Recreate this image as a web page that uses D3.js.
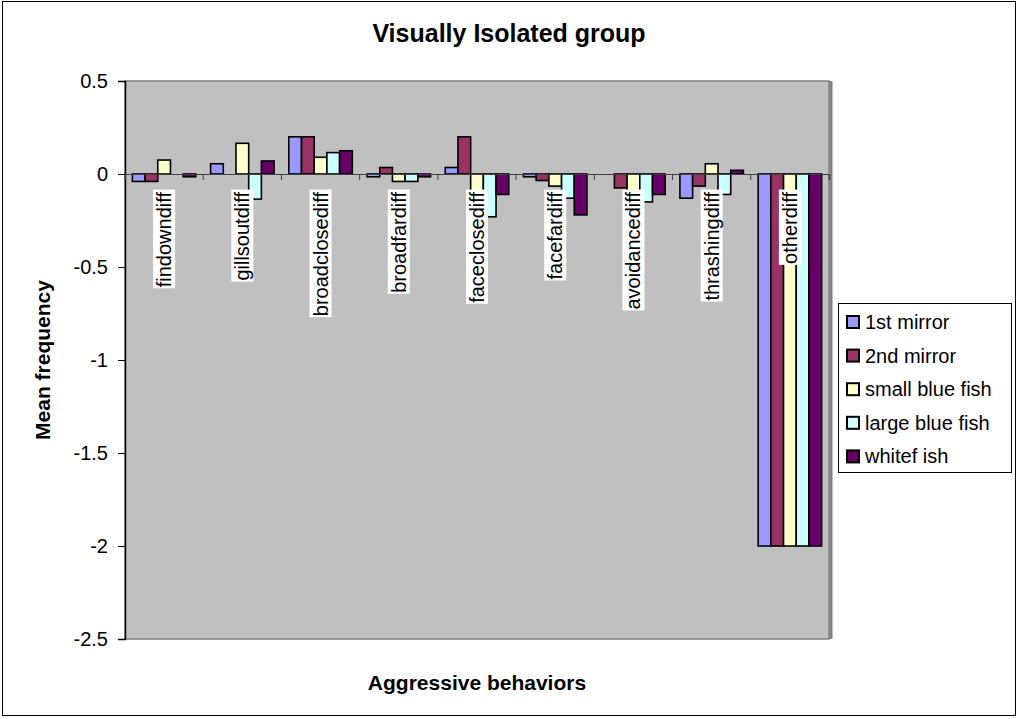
<!DOCTYPE html>
<html>
<head>
<meta charset="utf-8">
<script src="https://cdn.jsdelivr.net/npm/d3@7"></script>
<style>
  body { margin: 0; background: #fff; }
  text { font-family: Arial, "Liberation Sans", sans-serif; }
</style>
</head>
<body>
<svg width="1021" height="719"></svg>
<script>
// values
const categories = ['findowndiff', 'gillsoutdiff', 'broadclosediff', 'broadfardiff',
  'faceclosediff', 'facefardiff', 'avoidancediff', 'thrashingdiff', 'otherdiff'];
const seriesNames = ['1st mirror', '2nd mirror', 'small blue fish', 'large blue fish', 'whitef ish'];
const firstMirror  = [-0.04, 0.055, 0.2, -0.015, 0.035, -0.015, 0, -0.13, -2];
const secondMirror = [-0.04, 0, 0.2, 0.035, 0.2, -0.035, -0.075, -0.065, -2];
const smallBlue    = [0.075, 0.165, 0.09, -0.04, -0.1, -0.065, -0.09, 0.055, -2];
const largeBlue    = [0, -0.135, 0.115, -0.04, -0.23, -0.13, -0.15, -0.11, -2];
const whiteFish    = [-0.015, 0.07, 0.125, -0.015, -0.11, -0.22, -0.11, 0.02, -2];
const yTicks = [0.5, 0, -0.5, -1, -1.5, -2, -2.5];
const colors = ['#9999FF', '#993366', '#FFFFCC', '#CCFFFF', '#660066'];

const seriesValues = [firstMirror, secondMirror, smallBlue, largeBlue, whiteFish];

const svg = d3.select('svg');
const width = +svg.attr('width');
const height = +svg.attr('height');

const margin = { top: 81, right: 192, bottom: 80, left: 125 };
const innerWidth = width - margin.left - margin.right;   // 704
const innerHeight = height - margin.top - margin.bottom; // 558

// outer chart border
svg.append('rect')
  .attr('x', 2.5).attr('y', 1.5)
  .attr('width', 1013).attr('height', 714)
  .attr('fill', '#fff')
  .attr('stroke', '#000');

svg.append('text')
  .attr('x', 509).attr('y', 42)
  .attr('text-anchor', 'middle')
  .attr('font-size', 25).attr('font-weight', 'bold')
  .text('Visually Isolated group');

const g = svg.append('g')
  .attr('transform', `translate(${margin.left}, ${margin.top})`);

const yScale = d3.scaleLinear()
  .domain([0.5, -2.5])
  .range([0, innerHeight]);

const x0 = d3.scaleBand()
  .domain(categories)
  .range([0, innerWidth])
  .padding(0);

const x1 = d3.scaleBand()
  .domain(seriesNames)
  .range([0, x0.bandwidth()])
  .paddingInner(0)
  .paddingOuter(0.58);

// plot area
g.append('rect')
  .attr('width', innerWidth).attr('height', innerHeight)
  .attr('fill', '#C0C0C0');

// bars
const groups = g.selectAll('.cat').data(categories)
  .enter().append('g')
  .attr('class', 'cat')
  .attr('transform', d => `translate(${x0(d)}, 0)`);

groups.selectAll('rect')
  .data((c, i) => seriesNames.map((s, j) => ({ s, j, v: seriesValues[j][i] })))
  .enter().append('rect')
  .filter(d => d.v !== 0)
  .attr('x', d => x1(d.s))
  .attr('y', d => yScale(Math.max(0, d.v)))
  .attr('width', x1.bandwidth())
  .attr('height', d => Math.abs(yScale(d.v) - yScale(0)))
  .attr('fill', d => colors[d.j])
  .attr('stroke', '#000')
  .attr('stroke-width', 1.6);

// plot border
g.append('rect')
  .attr('width', innerWidth).attr('height', innerHeight)
  .attr('fill', 'none')
  .attr('stroke', '#808080')
  .attr('stroke-width', 1.5);
g.append('line')
  .attr('x1', innerWidth + 2).attr('x2', innerWidth + 2)
  .attr('y1', 0).attr('y2', innerHeight)
  .attr('stroke', '#808080').attr('stroke-width', 3);

// y axis
const yAxis = d3.axisLeft(yScale)
  .tickValues(yTicks)
  .tickSize(7)
  .tickPadding(10)
  .tickFormat(d => String(d));
const yAxisG = g.append('g').call(yAxis);
yAxisG.select('.domain').attr('stroke', '#000').attr('stroke-width', 1.5);
yAxisG.selectAll('.tick line').attr('stroke', '#000');
yAxisG.selectAll('.tick text')
  .attr('font-size', 20)
  .attr('font-family', 'Arial, "Liberation Sans", sans-serif')
  .attr('fill', '#000');

// category axis on zero line
const xAxis = d3.axisBottom(x0).tickSize(6).tickFormat('');
const xAxisG = g.append('g')
  .attr('transform', `translate(0, ${yScale(0)})`)
  .call(xAxis);
xAxisG.select('.domain').attr('stroke', '#404040').attr('stroke-width', 1.2);
xAxisG.selectAll('.tick line')
  .attr('stroke', '#404040')
  .attr('transform', d => `translate(${-x0.bandwidth() / 2}, 0)`);
xAxisG.append('line')
  .attr('x1', innerWidth).attr('x2', innerWidth)
  .attr('y1', 0).attr('y2', 6)
  .attr('stroke', '#404040');

// rotated category labels with white boxes
const labels = g.selectAll('.clabel').data(categories)
  .enter().append('g')
  .attr('class', 'clabel')
  .attr('transform', d => `translate(${x0(d) + x0.bandwidth() / 2}, ${yScale(0) + 18}) rotate(-90)`);

labels.append('text')
  .attr('x', 0).attr('y', 0)
  .attr('dy', '0.35em')
  .attr('text-anchor', 'end')
  .attr('font-size', 20)
  .text(d => d);

labels.each(function () {
  const sel = d3.select(this);
  const bb = sel.select('text').node().getBBox();
  sel.insert('rect', 'text')
    .attr('x', bb.x - 1).attr('y', bb.y)
    .attr('width', bb.width + 3).attr('height', bb.height)
    .attr('fill', '#fff');
});

// axis titles
svg.append('text')
  .attr('transform', `translate(43, ${margin.top + innerHeight / 2}) rotate(-90)`)
  .attr('dy', '0.35em')
  .attr('text-anchor', 'middle')
  .attr('font-size', 21).attr('font-weight', 'bold')
  .text('Mean frequency');

svg.append('text')
  .attr('x', 477)
  .attr('y', 690)
  .attr('text-anchor', 'middle')
  .attr('font-size', 21).attr('font-weight', 'bold')
  .text('Aggressive behaviors');

// legend
const legend = svg.append('g').attr('transform', 'translate(838, 303)');
legend.append('rect')
  .attr('x', 0.5).attr('y', 0.5)
  .attr('width', 173).attr('height', 169)
  .attr('fill', '#fff').attr('stroke', '#000');

const items = legend.selectAll('.item').data(seriesNames)
  .enter().append('g')
  .attr('class', 'item')
  .attr('transform', (d, i) => `translate(9, ${19 + i * 33.6})`);
items.append('rect')
  .attr('x', 0).attr('y', -6)
  .attr('width', 12).attr('height', 12)
  .attr('fill', (d, i) => colors[i])
  .attr('stroke', '#000').attr('stroke-width', 2);
items.append('text')
  .attr('x', 18).attr('y', 0)
  .attr('dy', '0.35em')
  .attr('font-size', 20)
  .text(d => d);
</script>
</body>
</html>
